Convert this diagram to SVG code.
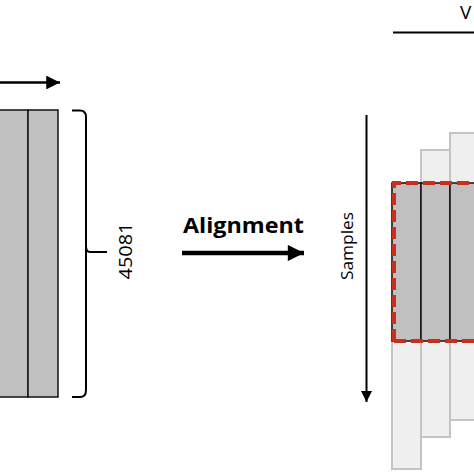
<svg xmlns="http://www.w3.org/2000/svg" width="474" height="474" viewBox="0 0 474 474">
<defs>
<style>
.dark{fill:#c0c0c0;stroke:#111;stroke-width:1.5}
.light{fill:#efefef;stroke:#c4c4c4;stroke-width:2}
.ln{stroke:#000;fill:none}
.lbl{font-family:"Open Sans","Liberation Sans",sans-serif;fill:#000}
</style>
<marker id="ah" viewBox="0 0 10 10" refX="10" refY="5" markerWidth="4" markerHeight="3.6" markerUnits="strokeWidth" orient="auto"><path d="M0,0L10,5L0,10z" fill="#000"/></marker>
<marker id="ahs" viewBox="0 0 10 10" refX="10" refY="5" markerWidth="6" markerHeight="5.5" markerUnits="strokeWidth" orient="auto"><path d="M0,0L10,5L0,10z" fill="#000"/></marker>
</defs>
<rect width="474" height="474" fill="#fff"/>
<g id="left-matrix">
<rect x="-2" y="110" width="30" height="287" class="dark"/>
<rect x="28" y="110" width="30" height="287" class="dark"/>
</g>
<g id="right-matrix">
<rect x="421" y="150" width="29" height="287" class="light"/>
<rect x="450" y="133" width="30" height="287" class="light"/>
<rect x="392" y="183" width="29" height="286" class="light"/>
<rect x="392" y="183" width="29" height="158" class="dark"/>
<rect x="421" y="183" width="29" height="158" class="dark"/>
<rect x="450" y="183" width="30" height="158" class="dark"/>
<path d="M394,341V183H480M394,341H480" fill="none" stroke="#c8301e" stroke-width="4" stroke-dasharray="12,5"/>
</g>
<g id="connectors">
<line x1="-2" y1="82.5" x2="60" y2="82.5" class="ln" stroke-width="2.5" marker-end="url(#ahs)"/>
<path d="M72,110.5H80Q86,110.5 86,117V246Q86,252 90,252H107M86,246V390Q86,397 80,397H72" class="ln" stroke-width="2"/>
<line x1="182" y1="253" x2="304" y2="253" class="ln" stroke-width="4.5" marker-end="url(#ah)"/>
<line x1="366.5" y1="115" x2="366.5" y2="402" class="ln" stroke-width="2" marker-end="url(#ahs)"/>
<line x1="393" y1="32.5" x2="474" y2="32.5" class="ln" stroke-width="2"/>
</g>
<g id="labels">
<text x="460" y="19" class="lbl" font-size="19">V</text>
<text x="183" y="233" class="lbl" font-size="21" font-weight="bold" textLength="121" lengthAdjust="spacingAndGlyphs">Alignment</text>
<text transform="translate(132,251) rotate(-90)" text-anchor="middle" class="lbl" font-size="19" textLength="57" lengthAdjust="spacingAndGlyphs">45081</text>
<text transform="translate(353,246) rotate(-90)" text-anchor="middle" class="lbl" font-size="17" textLength="68" lengthAdjust="spacingAndGlyphs">Samples</text>
</g>
</svg>
